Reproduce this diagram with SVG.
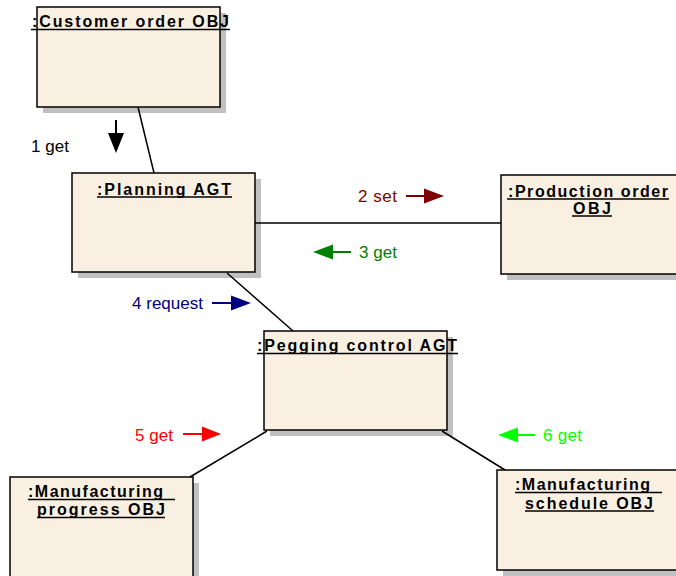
<svg xmlns="http://www.w3.org/2000/svg" width="676" height="576" viewBox="0 0 676 576">
  <style>
    .shadow { fill: #c0c0c0; }
    .box { fill: #faf0e2; stroke: #000; stroke-width: 1.5; }
    .title { font-family: "Liberation Sans", Arial, sans-serif; font-weight: bold; font-size: 16px; fill: #000; }
    .ul { stroke: #000; stroke-width: 1.3; }
    .link { stroke: #000; stroke-width: 1.5; fill: none; }
    .lbl { font-family: "Liberation Sans", Arial, sans-serif; font-size: 17px; }
    .shaft { stroke-width: 2; }
  </style>
  <rect width="676" height="576" fill="#fff"/>

  <g id="customer-order">
    <rect class="shadow" x="43" y="13" width="183" height="100"/>
    <rect class="box" x="37" y="7" width="183" height="100"/>
    <text class="title" x="32" y="27" textLength="197" lengthAdjust="spacing">:Customer order OBJ</text>
    <line class="ul" x1="31" y1="29.5" x2="230" y2="29.5"/>
  </g>

  <g id="planning">
    <rect class="shadow" x="78" y="179" width="183" height="99"/>
    <rect class="box" x="72" y="173" width="183" height="99"/>
    <text class="title" x="97" y="194.5" textLength="134" lengthAdjust="spacing">:Planning AGT</text>
    <line class="ul" x1="97" y1="197" x2="232" y2="197"/>
  </g>

  <g id="production-order">
    <rect class="shadow" x="507" y="181" width="183" height="99"/>
    <rect class="box" x="501" y="175" width="183" height="99"/>
    <text class="title" x="508" y="196.5" textLength="160" lengthAdjust="spacing">:Production order</text>
    <line class="ul" x1="507" y1="199" x2="669" y2="199"/>
    <text class="title" x="573" y="213.5" textLength="38" lengthAdjust="spacing">OBJ</text>
    <line class="ul" x1="572" y1="216" x2="612" y2="216"/>
  </g>

  <g id="pegging-control">
    <rect class="shadow" x="270" y="337" width="183" height="99"/>
    <rect class="box" x="264" y="331" width="183" height="99"/>
    <text class="title" x="257" y="351" textLength="200" lengthAdjust="spacing">:Pegging control AGT</text>
    <line class="ul" x1="257" y1="353.5" x2="458" y2="353.5"/>
  </g>

  <g id="manufacturing-progress">
    <rect class="shadow" x="16" y="483" width="183" height="105"/>
    <rect class="box" x="10" y="477" width="183" height="105"/>
    <text class="title" x="28" y="497" textLength="135" lengthAdjust="spacing">:Manufacturing</text>
    <line class="ul" x1="28" y1="499.5" x2="175" y2="499.5"/>
    <text class="title" x="37" y="515" textLength="128" lengthAdjust="spacing">progress OBJ</text>
    <line class="ul" x1="37" y1="517.5" x2="165" y2="517.5"/>
  </g>

  <g id="manufacturing-schedule">
    <rect class="shadow" x="503" y="476" width="183" height="100"/>
    <rect class="box" x="497" y="470" width="183" height="100"/>
    <text class="title" x="515" y="490" textLength="135" lengthAdjust="spacing">:Manufacturing</text>
    <line class="ul" x1="515" y1="492.5" x2="662" y2="492.5"/>
    <text class="title" x="525" y="508.5" textLength="128" lengthAdjust="spacing">schedule OBJ</text>
    <line class="ul" x1="525" y1="511" x2="654" y2="511"/>
  </g>

  <!-- links between objects, drawn over the drop shadows -->
  <g id="connectors">
    <line class="link" x1="138" y1="107" x2="154" y2="173"/>
    <line class="link" x1="255" y1="223" x2="501" y2="223"/>
    <line class="link" x1="227" y1="273" x2="293" y2="331"/>
    <line class="link" x1="267" y1="431" x2="190" y2="477"/>
    <line class="link" x1="442" y1="431" x2="505" y2="470"/>

    <!-- message 1 -->
    <g id="msg1">
      <text class="lbl" x="31" y="152" textLength="38" lengthAdjust="spacing" fill="#000">1 get</text>
      <line class="shaft" x1="116" y1="120" x2="116" y2="134" stroke="#000"/>
      <polygon points="108,133 124,133 116,153" fill="#000"/>
    </g>
    <!-- message 2 -->
    <g id="msg2">
      <text class="lbl" x="358" y="202" textLength="39" lengthAdjust="spacing" fill="#800000">2 set</text>
      <line class="shaft" x1="406" y1="196" x2="425" y2="196" stroke="#800000"/>
      <polygon points="424,188.5 424,203.5 444,196" fill="#800000"/>
    </g>
    <!-- message 3 -->
    <g id="msg3">
      <text class="lbl" x="359" y="258" textLength="38" lengthAdjust="spacing" fill="#008000">3 get</text>
      <line class="shaft" x1="332" y1="252" x2="351" y2="252" stroke="#008000"/>
      <polygon points="313,252 333,244.5 333,259.5" fill="#008000"/>
    </g>
    <!-- message 4 -->
    <g id="msg4">
      <text class="lbl" x="132" y="309" textLength="71" lengthAdjust="spacing" fill="#000080">4 request</text>
      <line class="shaft" x1="212" y1="303" x2="232" y2="303" stroke="#000080"/>
      <polygon points="231,295.5 231,310.5 251,303" fill="#000080"/>
    </g>
    <!-- message 5 -->
    <g id="msg5">
      <text class="lbl" x="135" y="441" textLength="38" lengthAdjust="spacing" fill="#ff0000">5 get</text>
      <line class="shaft" x1="183" y1="434" x2="203" y2="434" stroke="#ff0000"/>
      <polygon points="202,426.5 202,441.5 221,434" fill="#ff0000"/>
    </g>
    <!-- message 6 -->
    <g id="msg6">
      <text class="lbl" x="543" y="441" textLength="39" lengthAdjust="spacing" fill="#00ff00">6 get</text>
      <line class="shaft" x1="517" y1="435" x2="535" y2="435" stroke="#00ff00"/>
      <polygon points="498,435 518,427.5 518,442.5" fill="#00ff00"/>
    </g>
  </g>
</svg>
